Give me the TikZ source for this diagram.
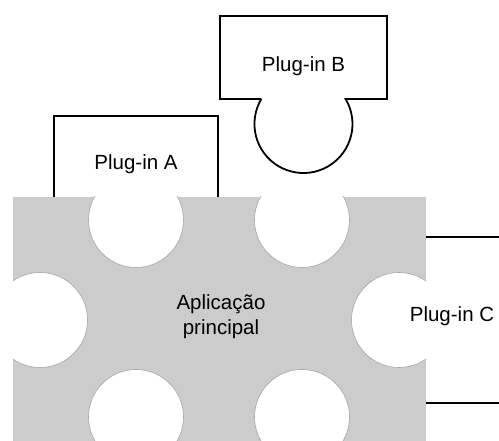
\documentclass[tikz,border=0pt]{standalone}
\usepackage{fontspec}
\setmainfont{Liberation Sans}
\usetikzlibrary{positioning}
\definecolor{appgray}{HTML}{CCCCCC}
\tikzset{
  plugbox/.style={draw=black, line width=1.8bp, fill=white, line join=miter},
  plugtext/.style={font=\fontsize{20.5bp}{25bp}\selectfont, text=black, inner sep=0pt, anchor=base},
  hole/.style={fill=white, draw=black!35, line width=0.6bp},
  wire/.style={draw=black, line width=1.8bp}
}

\begin{document}
\begin{tikzpicture}[x=1bp, y=1bp]
\useasboundingbox (0,0) rectangle (499,441);
% plug-in A, its lower edge hides under the application
\draw[plugbox] (54,236) rectangle (218,325);
\node[plugtext] (plugA) at (136,271) {Plug-in A};
% main application with its six sockets
\fill[appgray] (13,0) rectangle (426,244);
\begin{scope}
  \clip (13,0) rectangle (426,244);
  \foreach \cx/\cy in {136/221, 302/221, 136/24, 302/24, 40/121, 399/121}
    \filldraw[hole] (\cx,\cy) circle[radius=47.5];
\end{scope}
\node[plugtext, align=center, anchor=center] (app) at (221,124) {Aplicação\\principal};
% plug-in B with its round pin
\draw[plugbox] (261.4,342) -- (220,342) -- (220,425) -- (387,425) -- (387,342)
  -- (345.6,342) arc[start angle=30.7, end angle=-210.7, radius=49] -- cycle;
\node[plugtext] (plugB) at (303.5,369) {Plug-in B};
% plug-in C, only its edges show
\coordinate (cTopL) at (426,204);
\coordinate (cTopR) at (499,204);
\coordinate (cBotL) at (426,38);
\coordinate (cBotR) at (499,38);
\draw[wire] (cTopL) -- (cTopR);
\draw[wire] (cBotL) -- (cBotR);
\node[plugtext] (plugC) at (452,119) {Plug-in C};
\end{tikzpicture}
\end{document}
